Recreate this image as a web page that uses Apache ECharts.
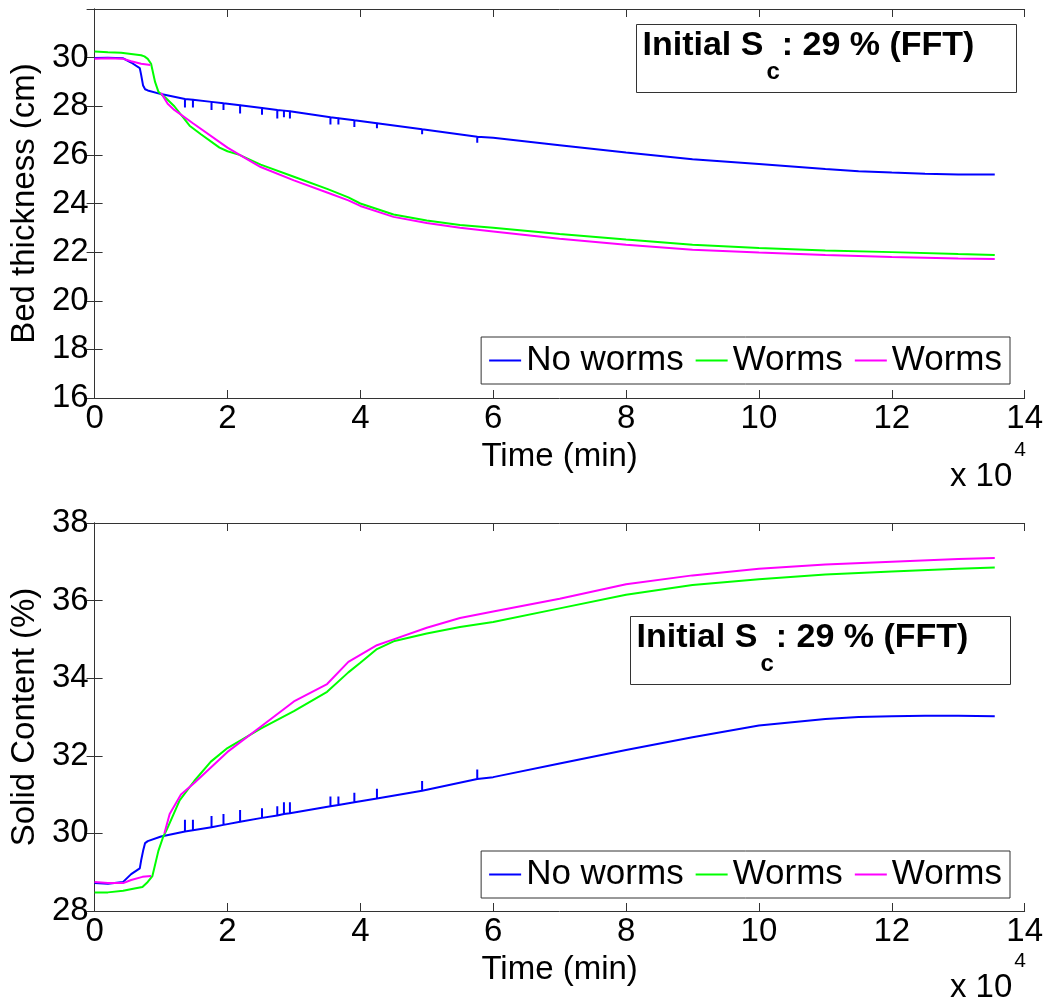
<!DOCTYPE html>
<html>
<head>
<meta charset="utf-8">
<script src="https://cdn.jsdelivr.net/npm/echarts@6/dist/echarts.min.js"></script>
<style>
  html, body { margin: 0; padding: 0; background: #fff; }
  #chart { width: 1046px; height: 997px; }
</style>
</head>
<body>
<div id="chart"></div>
<script>
// time in minutes
const xTicks = [0, 20000, 40000, 60000, 80000, 100000, 120000, 140000];

// ---- bed thickness (cm) ----
const tNoWormsBed = [0, 2000, 4300, 5500, 6800, 7000, 7300, 7600, 8000, 10000,
  13600, 13600, 13600, 14800, 14800, 14800, 17600, 17600, 17600, 19400, 19400, 19400,
  21900, 21900, 21900, 25200, 25200, 25200, 27500, 27500, 27500, 28500, 28500, 28500,
  29400, 29400, 29400, 35500, 35500, 35500, 36700, 36700, 36700, 39100, 39100, 39100,
  42500, 42500, 42500, 49300, 49300, 49300, 57600, 57600, 57600,
  60000, 70000, 80000, 90000, 100000, 110000, 115000, 120000, 125000, 130000, 135500];
const bedNoWorms = [29.98, 29.99, 29.97, 29.8, 29.57, 29.3, 28.85, 28.7, 28.65, 28.5,
  28.3, 27.95, 28.3, 28.27, 27.95, 28.27, 28.18, 27.85, 28.18, 28.12, 27.85, 28.12,
  28.04, 27.7, 28.04, 27.93, 27.65, 27.93, 27.85, 27.5, 27.85, 27.82, 27.55, 27.82,
  27.79, 27.5, 27.79, 27.55, 27.25, 27.55, 27.51, 27.25, 27.51, 27.42, 27.15, 27.42,
  27.3, 27.1, 27.3, 27.05, 26.85, 27.05, 26.75, 26.5, 26.75,
  26.7, 26.4, 26.1, 25.82, 25.62, 25.42, 25.33, 25.27, 25.22, 25.19, 25.19];

const tWormsBed1 = [0, 2000, 4000, 5500, 7000, 7500, 8000, 8500, 9100, 9600, 10000, 10600,
  12000, 14300, 16000, 18800, 20000, 21800, 25000, 30000, 35000, 38200, 40000, 45000,
  50000, 55000, 60000, 70000, 80000, 90000, 100000, 110000, 120000, 130000, 135500];
const bedWorms1 = [30.25, 30.22, 30.2, 30.15, 30.1, 30.05, 29.95, 29.75, 29.0, 28.6, 28.5, 28.37,
  28.0, 27.2, 26.85, 26.3, 26.15, 26.0, 25.6, 25.1, 24.6, 24.25, 24.0, 23.55,
  23.3, 23.12, 23.0, 22.75, 22.52, 22.3, 22.17, 22.07, 22.0, 21.92, 21.88];

const tWormsBed2 = [0, 2000, 4300, 5500, 7000, 8400, 8800, 10000, 11000, 12000, 14800,
  20000, 22800, 25000, 30000, 35000, 38200, 40000, 45000, 50000, 55000, 60000,
  70000, 80000, 90000, 100000, 110000, 120000, 130000, 135500];
const bedWorms2 = [29.95, 29.97, 29.95, 29.85, 29.75, 29.7, null, 28.55, 28.1, 27.85, 27.3,
  26.3, 25.85, 25.5, 24.95, 24.45, 24.13, 23.9, 23.45, 23.2, 23.0, 22.85,
  22.55, 22.3, 22.1, 21.98, 21.88, 21.8, 21.74, 21.72];

// ---- solid content (%) ----
const tNoWormsSc = tNoWormsBed;
const scNoWorms = [28.72, 28.7, 28.75, 28.95, 29.1, 29.3, 29.55, 29.75, 29.8, 29.92,
  30.05, 30.35, 30.05, 30.08, 30.35, 30.08, 30.16, 30.45, 30.16, 30.22, 30.5, 30.22,
  30.3, 30.6, 30.3, 30.4, 30.65, 30.4, 30.46, 30.7, 30.46, 30.5, 30.8, 30.5,
  30.52, 30.8, 30.52, 30.7, 30.95, 30.7, 30.73, 30.95, 30.73, 30.8, 31.05, 30.8,
  30.9, 31.15, 30.9, 31.1, 31.35, 31.1, 31.4, 31.65, 31.4,
  31.45, 31.8, 32.15, 32.48, 32.78, 32.95, 33.0, 33.02, 33.03, 33.03, 33.02];

const tWormsSc1 = [0, 2000, 4300, 6000, 7200, 8000, 8700, 9600, 10300, 11000, 12800, 15000,
  17500, 20000, 25000, 30000, 35000, 38200, 40000, 42500, 45000, 50000, 55000, 60000,
  70000, 80000, 90000, 100000, 110000, 120000, 130000, 135500];
const scWorms1 = [28.48, 28.48, 28.52, 28.58, 28.62, 28.75, 28.9, 29.55, 29.9, 30.15, 30.85, 31.35,
  31.85, 32.2, 32.7, 33.15, 33.65, 34.15, 34.4, 34.75, 34.95, 35.15, 35.32, 35.45,
  35.8, 36.15, 36.4, 36.55, 36.67, 36.75, 36.82, 36.85];

const tWormsSc2 = [0, 2000, 4300, 5500, 7200, 8500, 9000, 10500, 11300, 13000, 15000, 17500,
  20000, 25000, 30000, 35000, 38200, 40000, 42500, 45000, 50000, 55000, 60000,
  70000, 80000, 90000, 100000, 110000, 120000, 130000, 135500];
const scWorms2 = [28.75, 28.72, 28.72, 28.8, 28.88, 28.9, null, 30.0, 30.5, 31.0, 31.3, 31.7,
  32.1, 32.75, 33.4, 33.85, 34.42, 34.6, 34.85, 35.0, 35.3, 35.55, 35.72,
  36.05, 36.42, 36.65, 36.82, 36.93, 37.0, 37.07, 37.1];

const seriesNames = ['No worms', 'Worms A', 'Worms B'];
const seriesColors = ['#0000ff', '#00ff00', '#ff00ff'];

const FONT = 'Liberation Sans, Arial, sans-serif';
const axisColor = '#333';

function pairs(t, v) {
  return t.map((x, i) => [x, v[i]]);
}

function xAxes(grid) {
  return [{
    gridIndex: grid, type: 'value', min: 0, max: 140000, interval: 20000,
    axisLine: { lineStyle: { color: axisColor } },
    axisTick: { inside: true, length: 8, lineStyle: { color: axisColor } },
    axisLabel: { color: '#000', fontSize: 33, fontFamily: FONT, margin: 4,
      formatter: v => String(v / 10000) },
    splitLine: { show: false },
    name: 'Time (min)', nameLocation: 'middle', nameGap: 42,
    nameTextStyle: { color: '#000', fontSize: 33, fontFamily: FONT }
  }, {
    gridIndex: grid, type: 'value', position: 'top', min: 0, max: 140000, interval: 20000,
    axisLine: { lineStyle: { color: axisColor } },
    axisTick: { inside: true, length: 8, lineStyle: { color: axisColor } },
    axisLabel: { show: false }, splitLine: { show: false }
  }];
}

function yAxes(grid, min, max, name, hideTop) {
  return [{
    gridIndex: grid, type: 'value', min: min, max: max, interval: 2,
    axisLine: { show: true, lineStyle: { color: axisColor } },
    axisTick: { show: true, inside: true, length: 8, lineStyle: { color: axisColor } },
    axisLabel: { color: '#000', fontSize: 33, fontFamily: FONT, margin: 6,
      formatter: v => (hideTop && v === max) ? '' : String(v) },
    splitLine: { show: false },
    name: name, nameLocation: 'middle', nameGap: 46, nameRotate: 90,
    nameTextStyle: { color: '#000', fontSize: 33, fontFamily: FONT }
  }, {
    gridIndex: grid, type: 'value', position: 'right', min: min, max: max, interval: 2,
    axisLine: { show: true, lineStyle: { color: axisColor } },
    axisTick: { show: true, inside: true, length: 8, lineStyle: { color: axisColor } },
    axisLabel: { show: false }, splitLine: { show: false }
  }];
}

function line(name, idx, xi, yi, data) {
  return {
    name: name, type: 'line', xAxisIndex: xi, yAxisIndex: yi,
    data: data, showSymbol: false, symbol: 'none', connectNulls: false,
    lineStyle: { color: seriesColors[idx], width: 2 },
    itemStyle: { color: seriesColors[idx] },
    emphasis: { disabled: true }
  };
}

function legendFor(top) {
  return {
    data: seriesNames, right: 36, top: top, orient: 'horizontal',
    icon: 'rect', itemWidth: 32, itemHeight: 2, itemGap: 12,
    padding: [6, 8, 6, 8],
    borderColor: axisColor, borderWidth: 1, backgroundColor: '#fff',
    textStyle: { color: '#000', fontSize: 35, fontFamily: FONT },
    formatter: n => n.replace(/ [AB]$/, ''),
    selectedMode: false
  };
}

function annotation(left, top) {
  return {
    type: 'group', left: left, top: top, z: 100,
    children: [{
      type: 'rect', shape: { x: 0, y: 0, width: 380, height: 68 },
      style: { fill: '#fff', stroke: axisColor, lineWidth: 1 }
    }, {
      type: 'text', x: 6, y: 4,
      style: {
        text: '{b|Initial S}{s|c}{b|: 29 % (FFT)}',
        rich: {
          b: { fontSize: 34, fontWeight: 'bold', fontFamily: FONT, fill: '#000', verticalAlign: 'top' },
          s: { fontSize: 24, fontWeight: 'bold', fontFamily: FONT, fill: '#000', verticalAlign: 'top',
               padding: [32, 2, 0, 3] }
        }
      }
    }]
  };
}

function exponent(top) {
  return {
    type: 'text', right: 20, top: top, z: 100,
    style: {
      text: '{a|x 10}{p|4}',
      rich: {
        a: { fontSize: 33, fontFamily: FONT, fill: '#000', verticalAlign: 'top', padding: [20, 0, 0, 0] },
        p: { fontSize: 21, fontFamily: FONT, fill: '#000', verticalAlign: 'top', padding: [0, 0, 0, 2] }
      }
    }
  };
}

const chart = echarts.init(document.getElementById('chart'), null, { renderer: 'canvas' });

const option = {
  backgroundColor: '#fff',
  animation: false,
  grid: [
    { left: 94, right: 18, top: 9, height: 389 },
    { left: 94, right: 18, top: 523, height: 388 }
  ],
  xAxis: xAxes(0).concat(xAxes(1)),
  yAxis: yAxes(0, 16, 32, 'Bed thickness (cm)', true).concat(yAxes(1, 28, 38, 'Solid Content (%)', false)),
  legend: [legendFor(337), legendFor(851)],
  series: [
    line(seriesNames[0], 0, 0, 0, pairs(tNoWormsBed, bedNoWorms)),
    line(seriesNames[1], 1, 0, 0, pairs(tWormsBed1, bedWorms1)),
    line(seriesNames[2], 2, 0, 0, pairs(tWormsBed2, bedWorms2)),
    line(seriesNames[0], 0, 2, 2, pairs(tNoWormsSc, scNoWorms)),
    line(seriesNames[1], 1, 2, 2, pairs(tWormsSc1, scWorms1)),
    line(seriesNames[2], 2, 2, 2, pairs(tWormsSc2, scWorms2))
  ],
  graphic: [
    annotation(636, 24),
    annotation(630, 616),
    exponent(440),
    exponent(951)
  ]
};

chart.setOption(option);
</script>
</body>
</html>
